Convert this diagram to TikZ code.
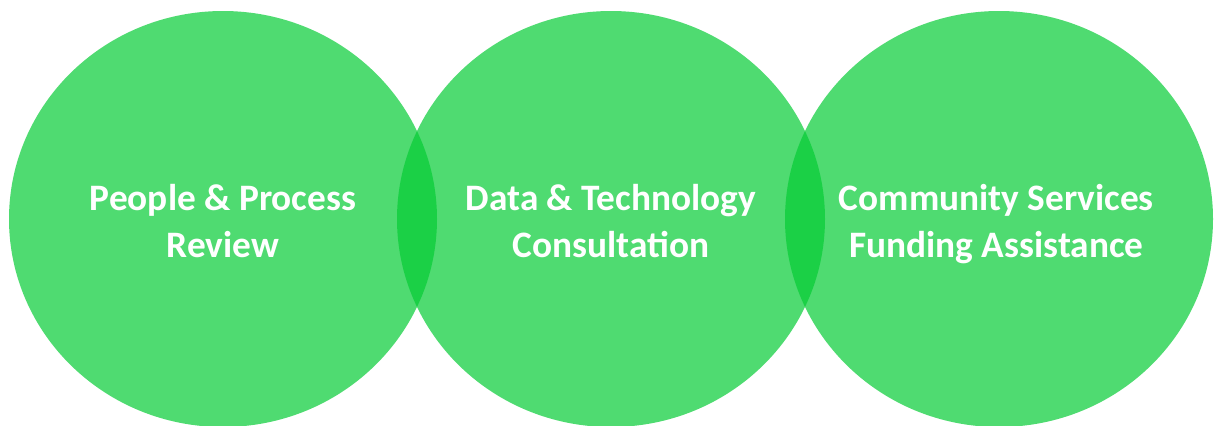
\documentclass[tikz,border=0pt]{standalone}
\usepackage{fontspec}
\setmainfont{Carlito}
\usetikzlibrary{positioning, shapes.geometric}
\definecolor{vennGreen}{RGB}{5,204,53}

\begin{document}
\begin{tikzpicture}[
		x=0.75pt, y=-0.75pt,
		venn/.style = {ellipse, fill=vennGreen, fill opacity=0.7, inner sep=0pt, outer sep=0pt, minimum width=321pt, minimum height=312pt},
		caption/.style = {text=white, align=center, inner sep=0pt, text height=63pt, text depth=6pt, font=\bfseries\fontsize{28}{35}\selectfont}
	]
	
	% canvas
	\fill[white] (0,0) rectangle (1214,425);
	\useasboundingbox (0,0) rectangle (1214,425);
	
	% the three overlapping circles
	\node[venn] (c1) at (223,219) {};
	\node[venn, right=-30pt of c1] (c2) {};
	\node[venn, right=-30pt of c2] (c3) {};
	
	% texts, one in each circle
	\node[caption] (t1) at (c1) {People \& Process\\Review};
	\node[caption] (t2) at (c2) {Data \& Technology\\Consultation};
	\node[caption, xshift=-2pt] (t3) at (c3) {Community Services\\Funding Assistance};
\end{tikzpicture}
\end{document}
